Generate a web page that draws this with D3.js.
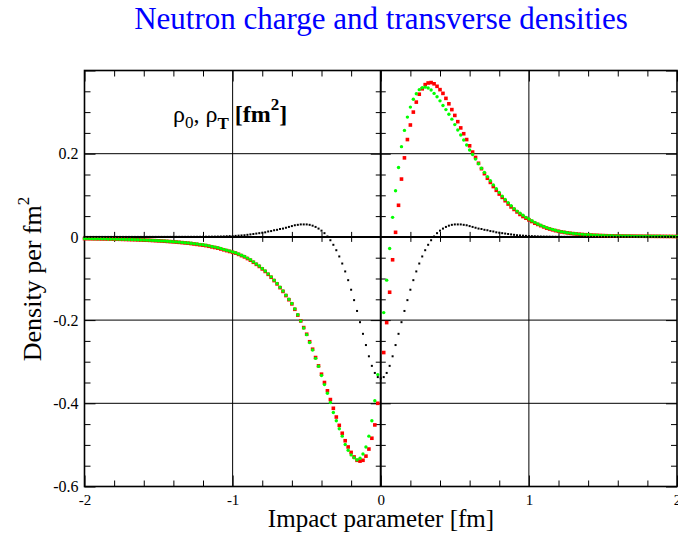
<!DOCTYPE html>
<html>
<head>
<meta charset="utf-8">
<script src="https://cdn.jsdelivr.net/npm/d3@7"></script>
<style>
  body { margin: 0; background: #fff; }
  svg { display: block; font-family: "Liberation Serif", "Times New Roman", serif; }
  svg text { font-family: "Liberation Serif", "Times New Roman", serif; }
</style>
</head>
<body>
<svg id="chart" width="678" height="533"></svg>
<script>
// Impact parameter grid [fm]
const impactParam = [
  -2.00,-1.98,-1.96,-1.94,-1.92,-1.90,-1.88,-1.86,-1.84,-1.82,
  -1.80,-1.78,-1.76,-1.74,-1.72,-1.70,-1.68,-1.66,-1.64,-1.62,
  -1.60,-1.58,-1.56,-1.54,-1.52,-1.50,-1.48,-1.46,-1.44,-1.42,
  -1.40,-1.38,-1.36,-1.34,-1.32,-1.30,-1.28,-1.26,-1.24,-1.22,
  -1.20,-1.18,-1.16,-1.14,-1.12,-1.10,-1.08,-1.06,-1.04,-1.02,
  -1.00,-0.98,-0.96,-0.94,-0.92,-0.90,-0.88,-0.86,-0.84,-0.82,
  -0.80,-0.78,-0.76,-0.74,-0.72,-0.70,-0.68,-0.66,-0.64,-0.62,
  -0.60,-0.58,-0.56,-0.54,-0.52,-0.50,-0.48,-0.46,-0.44,-0.42,
  -0.40,-0.38,-0.36,-0.34,-0.32,-0.30,-0.28,-0.26,-0.24,-0.22,
  -0.20,-0.18,-0.16,-0.14,-0.12,-0.10,-0.08,-0.06,-0.04,-0.02,
   0.00, 0.02, 0.04, 0.06, 0.08, 0.10, 0.12, 0.14, 0.16, 0.18,
   0.20, 0.22, 0.24, 0.26, 0.28, 0.30, 0.32, 0.34, 0.36, 0.38,
   0.40, 0.42, 0.44, 0.46, 0.48, 0.50, 0.52, 0.54, 0.56, 0.58,
   0.60, 0.62, 0.64, 0.66, 0.68, 0.70, 0.72, 0.74, 0.76, 0.78,
   0.80, 0.82, 0.84, 0.86, 0.88, 0.90, 0.92, 0.94, 0.96, 0.98,
   1.00, 1.02, 1.04, 1.06, 1.08, 1.10, 1.12, 1.14, 1.16, 1.18,
   1.20, 1.22, 1.24, 1.26, 1.28, 1.30, 1.32, 1.34, 1.36, 1.38,
   1.40, 1.42, 1.44, 1.46, 1.48, 1.50, 1.52, 1.54, 1.56, 1.58,
   1.60, 1.62, 1.64, 1.66, 1.68, 1.70, 1.72, 1.74, 1.76, 1.78,
   1.80, 1.82, 1.84, 1.86, 1.88, 1.90, 1.92, 1.94, 1.96, 1.98,
   2.00
];

// rho_0 (black dots)
const rhoCharge = [
  0,0,0,0,0,0,0,0,0,0,
  0,0,0,0,0,0,0,0,0,0,
  0,0.0001,0.0001,0.0001,0.0001,0.0001,0.0001,0.0001,0.0001,0.0001,
  0.0002,0.0002,0.0002,0.0002,0.0002,0.0002,0.0002,0.0002,0.0002,0.0002,
  0.0003,0.0004,0.0005,0.0006,0.0007,0.0008,0.001,0.0012,0.0015,0.0018,
  0.002,0.0025,0.003,0.0035,0.004,0.005,0.006,0.007,0.008,0.009,
  0.010,0.011,0.013,0.014,0.016,0.017,0.019,0.020,0.022,0.024,
  0.026,0.028,0.029,0.030,0.030,0.030,0.029,0.027,0.024,0.020,
  0.015,0.009,0.001,-0.008,-0.019,-0.032,-0.047,-0.064,-0.083,-0.104,
  -0.127,-0.152,-0.178,-0.205,-0.233,-0.260,-0.287,-0.310,-0.327,-0.337,
  -0.340,-0.337,-0.327,-0.310,-0.287,-0.260,-0.233,-0.205,-0.178,-0.152,
  -0.127,-0.104,-0.083,-0.064,-0.047,-0.032,-0.019,-0.008,0.001,0.009,
  0.015,0.020,0.024,0.027,0.029,0.030,0.030,0.030,0.029,0.028,
  0.026,0.024,0.022,0.020,0.019,0.017,0.016,0.014,0.013,0.011,
  0.010,0.009,0.008,0.007,0.006,0.005,0.004,0.0035,0.003,0.0025,
  0.002,0.0018,0.0015,0.0012,0.001,0.0008,0.0007,0.0006,0.0005,0.0004,
  0.0003,0.0002,0.0002,0.0002,0.0002,0.0002,0.0002,0.0002,0.0002,0.0002,
  0.0002,0.0001,0.0001,0.0001,0.0001,0.0001,0.0001,0.0001,0.0001,0.0001,
  0,0,0,0,0,0,0,0,0,0,
  0,0,0,0,0,0,0,0,0,0,
  0
];

// rho_T, model 1 (red squares)
const rhoTransRed = [
  -0.0042,-0.0043,-0.0044,-0.0045,-0.0046,-0.0047,-0.0048,-0.0049,-0.0050,-0.0052,
  -0.0054,-0.0056,-0.0058,-0.0060,-0.0062,-0.0064,-0.0066,-0.0068,-0.0071,-0.0074,
  -0.0077,-0.0080,-0.0083,-0.0087,-0.0091,-0.0095,-0.0099,-0.0104,-0.0109,-0.0114,
  -0.0119,-0.0125,-0.0131,-0.0138,-0.0145,-0.0152,-0.016,-0.017,-0.018,-0.019,
  -0.020,-0.021,-0.0225,-0.024,-0.0255,-0.027,-0.029,-0.031,-0.033,-0.035,
  -0.037,-0.039,-0.042,-0.045,-0.048,-0.052,-0.056,-0.061,-0.066,-0.071,
  -0.077,-0.083,-0.090,-0.097,-0.105,-0.113,-0.122,-0.131,-0.141,-0.151,
  -0.161,-0.174,-0.188,-0.202,-0.218,-0.234,-0.252,-0.270,-0.290,-0.310,
  -0.330,-0.350,-0.370,-0.391,-0.412,-0.433,-0.453,-0.472,-0.490,-0.505,
  -0.518,-0.529,-0.537,-0.539,-0.537,-0.527,-0.510,-0.484,-0.452,-0.400,
  null,-0.278,-0.206,-0.133,-0.055,0.011,0.076,0.139,0.190,0.234,
  0.269,0.300,0.324,0.343,0.356,0.366,0.370,0.371,0.368,0.362,
  0.354,0.345,0.333,0.320,0.306,0.292,0.277,0.262,0.248,0.234,
  0.219,0.204,0.191,0.177,0.164,0.152,0.141,0.131,0.121,0.112,
  0.103,0.095,0.087,0.079,0.072,0.066,0.060,0.054,0.049,0.045,
  0.041,0.037,0.033,0.030,0.027,0.024,0.021,0.019,0.017,0.015,
  0.0135,0.012,0.0108,0.0097,0.0087,0.0078,0.0071,0.0064,0.0058,0.0053,
  0.0048,0.0044,0.0040,0.0037,0.0034,0.0031,0.0029,0.0027,0.0025,0.0024,
  0.0022,0.0021,0.0020,0.0019,0.0018,0.0018,0.0017,0.0016,0.0016,0.0015,
  0.0015,0.0014,0.0014,0.0013,0.0013,0.0012,0.0012,0.0011,0.0011,0.0010,
  0.0010
];

// rho_T, model 2 (green circles)
const rhoTransGreen = [
  -0.0040,-0.0041,-0.0042,-0.0043,-0.0044,-0.0045,-0.0046,-0.0047,-0.0049,-0.0051,
  -0.0053,-0.0054,-0.0056,-0.0058,-0.0060,-0.0062,-0.0064,-0.0066,-0.0069,-0.0072,
  -0.0075,-0.0078,-0.0081,-0.0084,-0.0088,-0.0092,-0.0096,-0.0100,-0.0105,-0.0110,
  -0.0115,-0.0120,-0.0126,-0.0132,-0.0139,-0.0146,-0.0154,-0.0162,-0.0171,-0.0180,
  -0.019,-0.020,-0.0215,-0.023,-0.0245,-0.026,-0.028,-0.030,-0.032,-0.034,
  -0.036,-0.038,-0.041,-0.044,-0.047,-0.051,-0.055,-0.060,-0.065,-0.070,
  -0.076,-0.082,-0.089,-0.096,-0.104,-0.112,-0.121,-0.130,-0.140,-0.150,
  -0.160,-0.173,-0.187,-0.202,-0.219,-0.235,-0.254,-0.272,-0.292,-0.311,
  -0.333,-0.355,-0.376,-0.398,-0.422,-0.442,-0.461,-0.479,-0.499,-0.513,
  -0.524,-0.531,-0.536,-0.532,-0.522,-0.505,-0.479,-0.442,-0.394,-0.331,
  null,-0.182,-0.104,-0.028,0.047,0.111,0.167,0.217,0.256,0.288,
  0.312,0.331,0.344,0.354,0.3585,0.360,0.358,0.353,0.345,0.337,
  0.327,0.316,0.306,0.295,0.283,0.270,0.257,0.245,0.233,0.221,
  0.209,0.198,0.187,0.176,0.165,0.155,0.145,0.135,0.125,0.116,
  0.107,0.098,0.090,0.082,0.075,0.068,0.062,0.057,0.052,0.047,
  0.043,0.039,0.035,0.031,0.028,0.025,0.022,0.020,0.018,0.016,
  0.014,0.0126,0.0113,0.0101,0.0091,0.0082,0.0074,0.0067,0.0061,0.0055,
  0.0050,0.0046,0.0042,0.0039,0.0036,0.0033,0.0031,0.0029,0.0027,0.0025,
  0.0024,0.0023,0.0022,0.0021,0.0020,0.0019,0.0018,0.0017,0.0017,0.0016,
  0.0016,0.0015,0.0015,0.0014,0.0014,0.0013,0.0013,0.0012,0.0012,0.0011,
  0.0011
];

// Axis ticks
const xMajorTicks = [-2, -1, 0, 1, 2];
const xTickLabels = ['-2', '-1', '0', '1', '2'];
const xMinorTicks = [-1.8, -1.6, -1.4, -1.2, -0.8, -0.6, -0.4, -0.2, 0.2, 0.4, 0.6, 0.8, 1.2, 1.4, 1.6, 1.8];
const yMajorTicks = [-0.6, -0.4, -0.2, 0, 0.2, 0.4];
const yTickLabels = ['-0.6', '-0.4', '-0.2', '0', '0.2', ''];
const yMinorTicks = [-0.55, -0.5, -0.45, -0.35, -0.3, -0.25, -0.15, -0.1, -0.05, 0.05, 0.1, 0.15, 0.25, 0.3, 0.35];
const xGrid = [-1, 1];
const yGrid = [-0.4, -0.2, 0.2];

const svg = d3.select('#chart');
const P = { left: 84.5, right: 677, top: 70.5, bottom: 486.5 };

const x = d3.scaleLinear().domain([-2, 2]).range([P.left, P.right]);
const y = d3.scaleLinear().domain([-0.6, 0.4]).range([P.bottom, P.top]);

svg.append('rect').attr('width', 678).attr('height', 533).attr('fill', '#fff');

// ── Grid and zero lines ─────────────────────────────────────────────────────
const gGrid = svg.append('g');
gGrid.selectAll('line.gx').data(xGrid).join('line')
  .attr('x1', d => x(d)).attr('x2', d => x(d))
  .attr('y1', P.top).attr('y2', P.bottom)
  .attr('stroke', '#000').attr('stroke-width', 1);
gGrid.selectAll('line.gy').data(yGrid).join('line')
  .attr('y1', d => y(d)).attr('y2', d => y(d))
  .attr('x1', P.left).attr('x2', P.right)
  .attr('stroke', '#000').attr('stroke-width', 1);

gGrid.append('line')
  .attr('x1', x(0)).attr('x2', x(0)).attr('y1', P.top).attr('y2', P.bottom)
  .attr('stroke', '#000').attr('stroke-width', 2);
gGrid.append('line')
  .attr('x1', P.left).attr('x2', P.right).attr('y1', y(0)).attr('y2', y(0))
  .attr('stroke', '#000').attr('stroke-width', 2);

// ── Ticks ───────────────────────────────────────────────────────────────────
function ticks(axisFn, scale, values, size, tx, ty) {
  const g = svg.append('g')
    .attr('transform', `translate(${tx},${ty})`)
    .call(axisFn(scale).tickValues(values).tickSize(size).tickFormat(''));
  g.select('.domain').remove();
  g.selectAll('line').attr('stroke', '#000').attr('stroke-width', 1);
  return g;
}

// frame: inward ticks
ticks(d3.axisBottom, x, xMinorTicks, -6, 0, P.bottom);
ticks(d3.axisBottom, x, xMajorTicks, -11, 0, P.bottom);
ticks(d3.axisTop, x, xMinorTicks, -6, 0, P.top);
ticks(d3.axisTop, x, xMajorTicks, -11, 0, P.top);
ticks(d3.axisLeft, y, yMinorTicks, -6, P.left, 0);
ticks(d3.axisLeft, y, yMajorTicks, -11, P.left, 0);
ticks(d3.axisRight, y, yMinorTicks, -6, P.right, 0);
ticks(d3.axisRight, y, yMajorTicks, -11, P.right, 0);

// zero axes: ticks on both sides
ticks(d3.axisBottom, x, xMinorTicks, 5, 0, y(0));
ticks(d3.axisTop, x, xMinorTicks, 5, 0, y(0));
ticks(d3.axisLeft, y, yMinorTicks, 5, x(0), 0);
ticks(d3.axisRight, y, yMinorTicks, 5, x(0), 0);
ticks(d3.axisLeft, y, yGrid, 10, x(0), 0);
ticks(d3.axisRight, y, yGrid, 10, x(0), 0);

// tick labels
const xLab = svg.append('g')
  .attr('transform', `translate(0,${P.bottom})`)
  .call(d3.axisBottom(x).tickValues(xMajorTicks).tickSize(0).tickPadding(8)
    .tickFormat((d, i) => xTickLabels[i]))
  .attr('font-family', null).attr('font-size', 15);
xLab.select('.domain').remove();
xLab.selectAll('text').attr('fill', '#000');

const yLab = svg.append('g')
  .attr('transform', `translate(${P.left},0)`)
  .call(d3.axisLeft(y).tickValues(yMajorTicks).tickSize(0).tickPadding(6)
    .tickFormat((d, i) => yTickLabels[i]))
  .attr('font-family', null).attr('font-size', 16);
yLab.select('.domain').remove();
yLab.selectAll('text').attr('fill', '#000');

// frame
svg.append('rect')
  .attr('x', P.left).attr('y', P.top)
  .attr('width', P.right - P.left).attr('height', P.bottom - P.top)
  .attr('fill', 'none').attr('stroke', '#000').attr('stroke-width', 1.6);

// ── Data points ─────────────────────────────────────────────────────────────
function points(values) {
  return impactParam.map((b, i) => ({ b, v: values[i] })).filter(d => d.v !== null);
}

const gData = svg.append('g');

gData.selectAll('rect.red').data(points(rhoTransRed)).join('rect')
  .attr('class', 'red')
  .attr('x', d => x(d.b) - 1.8).attr('y', d => y(d.v) - 1.8)
  .attr('width', 3.6).attr('height', 3.6)
  .attr('fill', '#ff0000');

gData.selectAll('circle.green').data(points(rhoTransGreen)).join('circle')
  .attr('class', 'green')
  .attr('cx', d => x(d.b)).attr('cy', d => y(d.v))
  .attr('r', 1.7)
  .attr('fill', '#00ff00');

gData.selectAll('rect.black').data(points(rhoCharge)).join('rect')
  .attr('class', 'black')
  .attr('x', d => x(d.b) - 1).attr('y', d => y(d.v) - 1)
  .attr('width', 2).attr('height', 2)
  .attr('fill', '#000');

// ── Texts ───────────────────────────────────────────────────────────────────
svg.append('text')
  .attr('x', 381).attr('y', 29)
  .attr('text-anchor', 'middle')
  .attr('font-size', 31)
  .attr('fill', '#0000ff')
  .text('Neutron charge and transverse densities');

svg.append('text')
  .attr('x', 381).attr('y', 527)
  .attr('text-anchor', 'middle')
  .attr('font-size', 25)
  .attr('fill', '#000')
  .text('Impact parameter [fm]');

const yTitle = svg.append('text')
  .attr('transform', 'translate(41,279) rotate(-90)')
  .attr('text-anchor', 'middle')
  .attr('font-size', 26)
  .attr('fill', '#000');
yTitle.append('tspan').text('Density per fm');
yTitle.append('tspan').attr('font-size', 17).attr('dy', -12).text('2');

const note = svg.append('text')
  .attr('x', 173).attr('y', 122)
  .attr('font-size', 24)
  .attr('fill', '#000');
note.append('tspan').text('ρ');
note.append('tspan').attr('font-size', 17).attr('dy', 6).text('0');
note.append('tspan').attr('dy', -6).text(', ρ');
note.append('tspan').attr('font-size', 17).attr('font-weight', 'bold').attr('dy', 7).text('T');
note.append('tspan').attr('font-weight', 'bold').attr('dy', -7).text(' [fm');
note.append('tspan').attr('font-size', 17).attr('font-weight', 'bold').attr('dy', -12).text('2');
note.append('tspan').attr('font-weight', 'bold').attr('dy', 12).text(']');
</script>
</body>
</html>
